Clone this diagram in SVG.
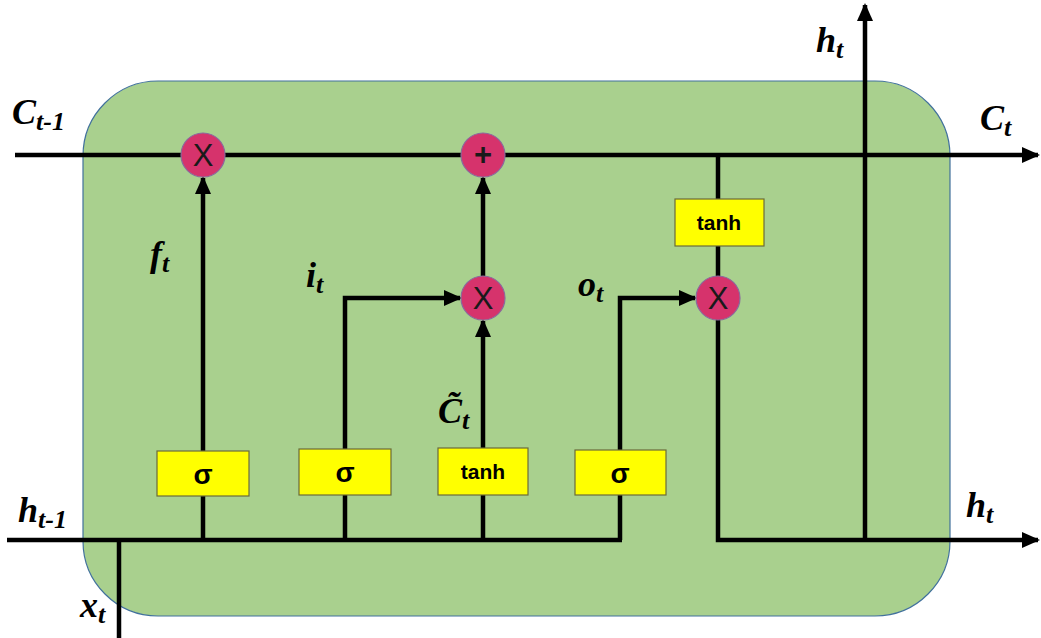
<svg xmlns="http://www.w3.org/2000/svg" width="1041" height="638" viewBox="0 0 1041 638">
<defs>
<style>
.ln{stroke:#000;stroke-width:4.5;fill:none}
.op{fill:#d6336c;stroke:#8a6a9c;stroke-width:1.2}
.box{fill:#ffff00;stroke:#6b6b3a;stroke-width:1.2}
.sym{font-family:"Liberation Sans",Arial,sans-serif;font-size:31px;fill:#1a1a1a;text-anchor:middle}
.bt{font-family:"Liberation Sans",Arial,sans-serif;font-weight:bold;fill:#000;text-anchor:middle}
.lab{font-family:"Liberation Serif","Times New Roman",serif;font-weight:bold;font-style:italic;fill:#000}
</style>
<marker id="ah" markerWidth="18" markerHeight="16" refX="16" refY="8" orient="auto" markerUnits="userSpaceOnUse">
<path d="M0,0 L18,8 L0,16 Z" fill="#000"/>
</marker>
</defs>
<rect width="1041" height="638" fill="#fff"/>
<rect id="cell" x="83" y="81" width="867" height="535" rx="75" ry="75" fill="#a9d08e" stroke="#41719c" stroke-width="1.2"/>
<g id="connectors">
<line class="ln" x1="15" y1="155" x2="1038" y2="155" marker-end="url(#ah)"/>
<line class="ln" x1="7" y1="540" x2="622" y2="540"/>
<line class="ln" x1="119" y1="540" x2="119" y2="638"/>
<line class="ln" x1="203" y1="540" x2="203" y2="178" marker-end="url(#ah)"/>
<polyline class="ln" points="345,540 345,298 460,298" marker-end="url(#ah)"/>
<line class="ln" x1="483" y1="540" x2="483" y2="321" marker-end="url(#ah)"/>
<line class="ln" x1="483" y1="276" x2="483" y2="178" marker-end="url(#ah)"/>
<polyline class="ln" points="620,540 620,298 695,298" marker-end="url(#ah)"/>
<polyline class="ln" points="718,155 718,540 1038,540" marker-end="url(#ah)"/>
<line class="ln" x1="865" y1="540" x2="865" y2="5" marker-end="url(#ah)"/>
</g>
<g id="mul_f"><circle class="op" cx="203" cy="155" r="22"/><text class="sym" x="203" y="166">X</text></g>
<g id="add_c"><circle class="op" cx="483" cy="155" r="22"/><text class="sym" x="483" y="165" font-weight="bold">+</text></g>
<g id="mul_i"><circle class="op" cx="483" cy="298" r="22"/><text class="sym" x="483" y="309">X</text></g>
<g id="mul_o"><circle class="op" cx="718" cy="298" r="22"/><text class="sym" x="718" y="309">X</text></g>
<g id="sig_f"><rect class="box" x="157" y="451" width="92" height="45"/><text class="bt" x="203" y="484" font-size="28">σ</text></g>
<g id="sig_i"><rect class="box" x="299" y="449" width="92" height="46"/><text class="bt" x="345" y="482" font-size="28">σ</text></g>
<g id="tanh_c"><rect class="box" x="438" y="448" width="90" height="47"/><text class="bt" x="483" y="479" font-size="21">tanh</text></g>
<g id="sig_o"><rect class="box" x="575" y="450" width="91" height="45"/><text class="bt" x="620" y="483" font-size="28">σ</text></g>
<g id="tanh_h"><rect class="box" x="675" y="199" width="89" height="47"/><text class="bt" x="719" y="230" font-size="21">tanh</text></g>
<g id="labels">
<text class="lab" x="12" y="124" font-size="36">C<tspan font-size="26" dy="6">t-1</tspan></text>
<text class="lab" x="980" y="130" font-size="36">C<tspan font-size="26" dy="6">t</tspan></text>
<text class="lab" x="816" y="52" font-size="36">h<tspan font-size="26" dy="6">t</tspan></text>
<text class="lab" x="150" y="266" font-size="36">f<tspan font-size="26" dy="6">t</tspan></text>
<text class="lab" x="306" y="287" font-size="36">i<tspan font-size="26" dy="6">t</tspan></text>
<text class="lab" x="578" y="296" font-size="36">o<tspan font-size="26" dy="6">t</tspan></text>
<text class="lab" x="438" y="423" font-size="36">C&#x303;<tspan font-size="26" dy="6">t</tspan></text>
<text class="lab" x="18" y="522" font-size="36">h<tspan font-size="26" dy="6">t-1</tspan></text>
<text class="lab" x="966" y="517" font-size="36">h<tspan font-size="26" dy="6">t</tspan></text>
<text class="lab" x="80" y="617" font-size="36">x<tspan font-size="26" dy="6">t</tspan></text>
</g>
</svg>
